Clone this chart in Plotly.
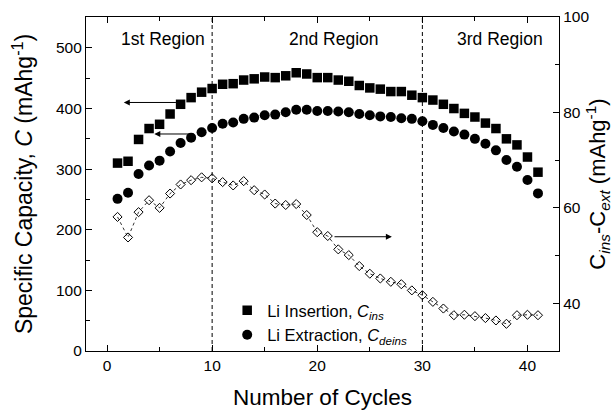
import plotly.graph_objects as go

cycles = list(range(1, 42))
c_ins = [310, 313, 349, 367, 374, 391, 407, 418, 427, 433,
         440, 441, 447, 449, 452, 451, 454, 459, 457, 451,
         451, 447, 445, 438, 434, 432, 428, 428, 422, 418,
         414, 407, 400, 392, 386, 376, 367, 350, 340, 320, 295]
c_deins = [251, 261, 292, 306, 314, 329, 343, 352, 361, 368,
           375, 377, 383, 385, 389, 390, 394, 398, 398, 396,
           396, 395, 394, 391, 389, 387, 386, 384, 383, 379,
           373, 368, 362, 357, 350, 342, 331, 315, 304, 282, 260]
c_diff = [58.1, 53.8, 59.1, 61.6, 60.0, 63.0, 64.9, 65.8, 66.4, 66.2,
          65.4, 64.7, 65.6, 63.7, 62.8, 60.9, 60.6, 60.8, 58.5, 54.9,
          54.1, 51.3, 50.1, 47.8, 46.2, 45.2, 44.5, 44.0, 42.7, 41.7,
          40.3, 38.9, 37.5, 37.6, 37.3, 36.9, 36.4, 35.7, 37.5, 37.6, 37.5]

region_labels = ["1st Region", "2nd Region", "3rd Region"]
region_x = [5.3, 21.6, 37.4]
region_bounds = [10, 30]

FONT = "Liberation Sans, Arial, sans-serif"

fig = go.Figure()
fig.add_trace(go.Scatter(
    x=cycles, y=c_ins, mode="markers",
    marker=dict(symbol="square", size=9.5, color="black"),
    name="Li Insertion, <i>C</i><sub><i>ins</i></sub>"))
fig.add_trace(go.Scatter(
    x=cycles, y=c_deins, mode="markers",
    marker=dict(symbol="circle", size=10, color="black"),
    name="Li Extraction, <i>C</i><sub><i>deins</i></sub>"))
fig.add_trace(go.Scatter(
    x=cycles, y=c_diff, mode="lines+markers", yaxis="y2",
    line=dict(color="black", width=0.8, dash="dot"),
    marker=dict(symbol="diamond-open", size=7, color="black",
                line=dict(width=1, color="black")),
    showlegend=False))

for xb in region_bounds:
    fig.add_shape(type="line", x0=xb, x1=xb, y0=0, y1=1, xref="x", yref="paper",
                  line=dict(color="black", width=1, dash="4px,3px"))

for lbl, xc in zip(region_labels, region_x):
    fig.add_annotation(x=xc, y=514, xref="x", yref="y", text=lbl, showarrow=False,
                       font=dict(family=FONT, size=17.5, color="black"))

arrows = [(1.6, 410, 6.7, 410), (4.5, 358, 8.4, 358), (27.1, 188.5, 21.5, 188.5)]
for hx, hy, tx, ty in arrows:
    fig.add_annotation(x=hx, y=hy, ax=tx, ay=ty, xref="x", yref="y", axref="x", ayref="y",
                       text="", showarrow=True, arrowhead=2, arrowsize=1.2, arrowwidth=1,
                       arrowcolor="black")

axis_common = dict(showline=True, linecolor="black", linewidth=1.2, ticks="inside",
                   tickcolor="black", tickwidth=1, ticklen=6, showgrid=False, zeroline=False,
                   automargin=False,
                   tickfont=dict(family=FONT, size=15.5, color="black"))

fig.update_layout(
    width=613, height=410,
    margin=dict(l=86, r=54, t=17, b=59),
    paper_bgcolor="white", plot_bgcolor="white",
    font=dict(family=FONT, color="black"),
    xaxis=dict(range=[-2, 43], dtick=10, mirror="ticks",
               minor=dict(dtick=5, ticks="inside", ticklen=3.5, tickcolor="black"),
               title=dict(text="Number of Cycles", font=dict(family=FONT, size=22.5), standoff=22),
               **axis_common),
    yaxis=dict(range=[0, 551], dtick=100,
               minor=dict(dtick=50, ticks="inside", ticklen=3.5, tickcolor="black"),
               title=dict(text="Specific Capacity, <i>C</i> (mAhg<sup>-1</sup>)",
                          font=dict(family=FONT, size=23), standoff=16),
               **axis_common),
    yaxis2=dict(range=[30, 100], dtick=20, overlaying="y", side="right",
                minor=dict(dtick=10, ticks="inside", ticklen=3.5, tickcolor="black"),
                title=dict(text="C<sub><i>ins</i></sub>-C<sub><i>ext</i></sub> (mAhg<sup>-1</sup>)",
                           font=dict(family=FONT, size=22), standoff=8),
                **axis_common),
    legend=dict(x=0.2985, y=0.085, xanchor="left", yanchor="middle",
                bgcolor="rgba(0,0,0,0)", font=dict(family=FONT, size=16.5, color="black"),
                tracegroupgap=0),
)

fig.write_html("out.html")
